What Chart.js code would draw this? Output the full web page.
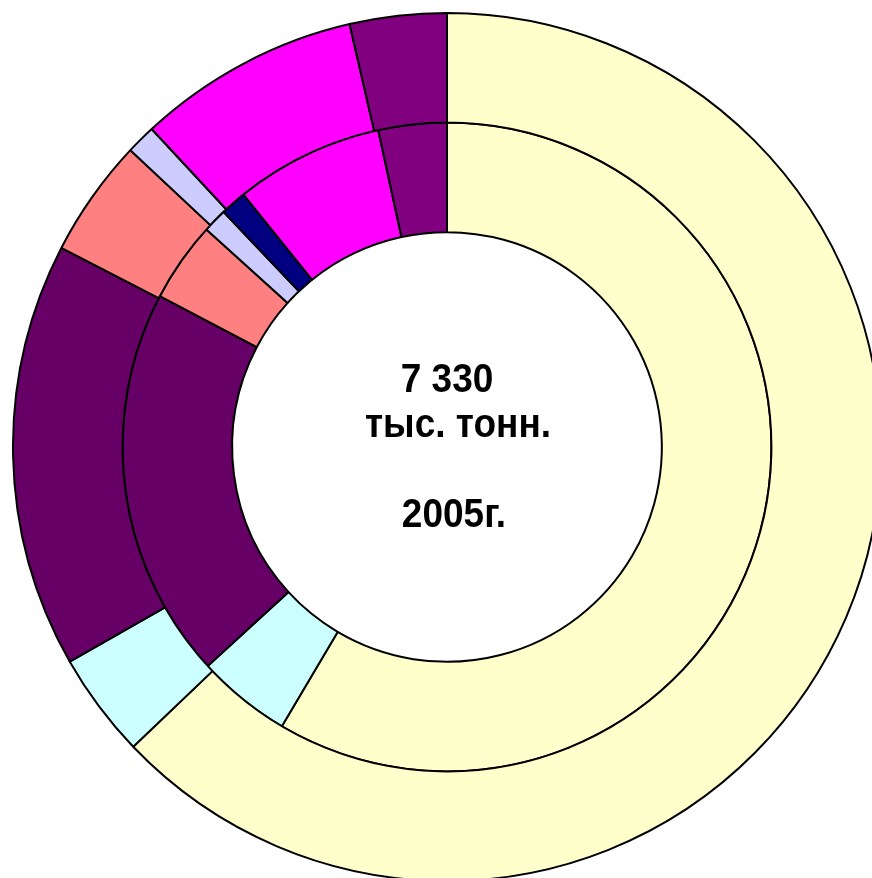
<!DOCTYPE html>
<html>
<head>
<meta charset="utf-8">
<script src="https://cdn.jsdelivr.net/npm/chart.js@4/dist/chart.umd.min.js"></script>
<style>
  html, body { margin: 0; padding: 0; background: #fff; overflow: hidden; width: 872px; height: 878px; }
  #wrap { position: absolute; left: 12px; top: 12px; width: 870px; height: 870px; }
</style>
</head>
<body>
<div id="wrap"><canvas id="ring"></canvas></div>
<script>
// shares, %
var categories = ['A', 'B', 'C', 'D', 'E', 'F', 'G', 'H'];
var colors = ['#FFFFCC', '#CCFFFF', '#660066', '#FF8080', '#CCCCFF', '#000080', '#FF00FF', '#800080'];
var outerValues = [62.8, 3.9, 15.8, 4.4, 1.1, 0, 8.3, 3.6];
var innerValues = [58.5, 4.7, 19.5, 4.0, 1.2, 1.3, 7.4, 3.4];
var centerLines = ['7 330', 'тыс. тонн.', '2005г.'];

document.addEventListener("DOMContentLoaded", function () {
   var centerText = {
      id: 'centerText',
      afterDraw: function (chart) {
         var c = chart.ctx;
         var a = chart.getDatasetMeta(0).data[0];
         var cx = a.x, cy = a.y;
         c.save();
         c.fillStyle = '#000';
         c.font = 'bold 37px "Liberation Sans", Arial, sans-serif';
         c.textAlign = 'center';
         c.textBaseline = 'alphabetic';
         var pos = [[0, -55], [11, -10], [7, 80]];
         for (var i = 0; i < centerLines.length; i++) {
            c.save();
            c.translate(cx + pos[i][0], cy + pos[i][1]);
            c.scale(1, 1.12);
            c.fillText(centerLines[i], 0, 0);
            c.restore();
         }
         c.restore();
      }
   };

   var ctx = document.getElementById('ring').getContext('2d');
   window.myRing = new Chart(ctx, {
      type: 'doughnut',
      data: {
         labels: categories,
         datasets: [{
            data: outerValues,
            backgroundColor: colors,
            borderColor: '#000',
            borderWidth: 2,
            borderAlign: 'center'
         }, {
            data: innerValues,
            backgroundColor: colors,
            borderColor: '#000',
            borderWidth: 2,
            borderAlign: 'center'
         }]
      },
      options: {
         responsive: true,
         maintainAspectRatio: false,
         animation: false,
         cutout: '49.5%',
         layout: { padding: 0 },
         plugins: {
            legend: { display: false },
            tooltip: { enabled: false }
         }
      },
      plugins: [centerText]
   });
});
</script>
</body>
</html>
